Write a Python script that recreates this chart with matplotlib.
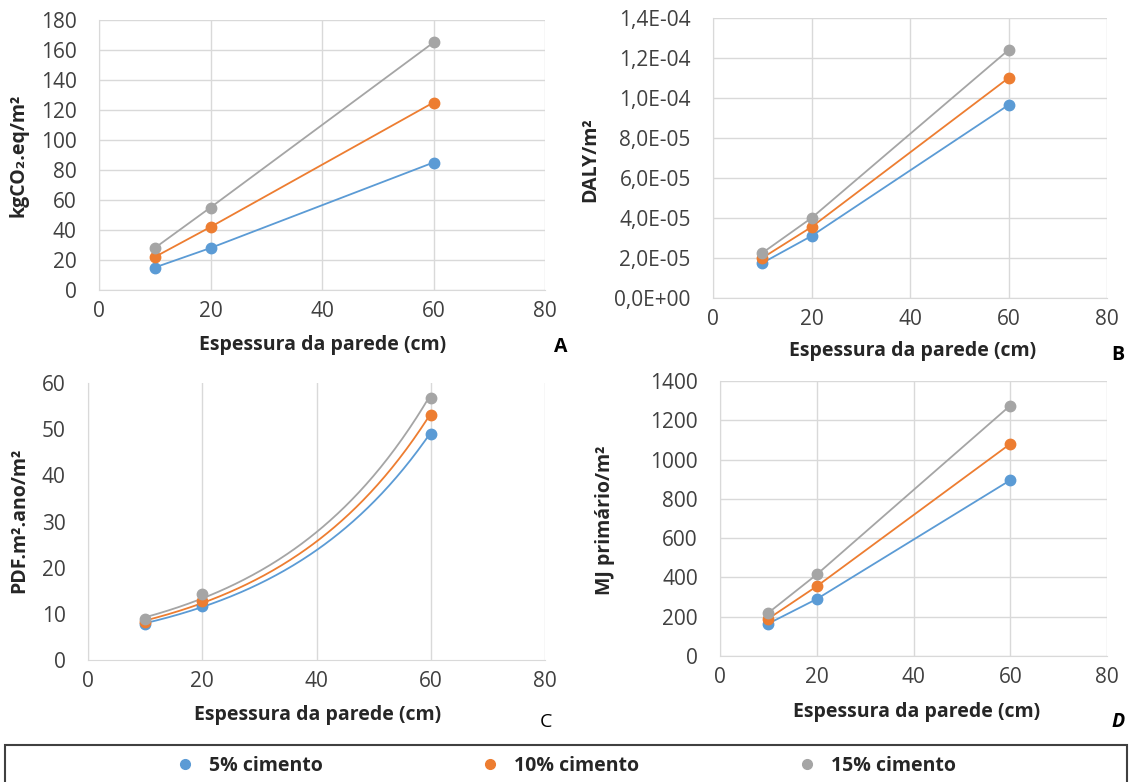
import numpy as np
import matplotlib
matplotlib.use("Agg")
import matplotlib.pyplot as plt
from matplotlib.ticker import FuncFormatter
from matplotlib.patches import Rectangle

plt.rcParams['font.family'] = ['Open Sans', 'DejaVu Sans']

# ---------------- data ----------------
thickness = [10, 20, 60]
series_names = ["5% cimento", "10% cimento", "15% cimento"]
colors = ["#5B9BD5", "#ED7D31", "#A5A5A5"]

co2_5 = [15, 28, 85]
co2_10 = [22, 42, 125]
co2_15 = [28, 55, 165]

daly_5 = [1.75e-5, 3.1e-5, 9.65e-5]
daly_10 = [2.0e-5, 3.55e-5, 1.10e-4]
daly_15 = [2.25e-5, 4.0e-5, 1.24e-4]

pdf_5 = [7.8, 11.8, 49.0]
pdf_10 = [8.3, 12.8, 53.0]
pdf_15 = [8.8, 14.2, 56.8]

mj_5 = [165, 290, 895]
mj_10 = [190, 355, 1080]
mj_15 = [220, 415, 1275]

x_ticks = [0, 20, 40, 60, 80]
yticks_A = [0, 20, 40, 60, 80, 100, 120, 140, 160, 180]
yticks_B = [0, 2e-5, 4e-5, 6e-5, 8e-5, 1e-4, 1.2e-4, 1.4e-4]
yticks_C = [0, 10, 20, 30, 40, 50, 60]
yticks_D = [0, 200, 400, 600, 800, 1000, 1200, 1400]

xlabel = "Espessura da parede (cm)"

# ---------------- figure ----------------
fig = plt.figure(figsize=(11.3, 7.82), dpi=100)
W, H = 1130, 782

def ax_from_px(l, r, t, b):
    return fig.add_axes([l / W, 1 - b / H, (r - l) / W, (b - t) / H])

axA = ax_from_px(99, 545, 20, 290)
axB = ax_from_px(713, 1107, 18, 298)
axC = ax_from_px(88, 545, 383, 660)
axD = ax_from_px(720, 1107, 381, 656)

grid_c = "#D9D9D9"
tick_c = "#404040"
FS_TICK = 15

def style(ax, yticks, hgrid=True):
    ax.set_xlim(0, 80)
    ax.set_ylim(yticks[0], yticks[-1])
    ax.set_xticks(x_ticks)
    ax.set_yticks(yticks)
    for s in ax.spines.values():
        s.set_visible(False)
    ax.spines['left'].set_visible(True)
    ax.spines['bottom'].set_visible(True)
    ax.spines['left'].set_color(grid_c)
    ax.spines['bottom'].set_color(grid_c)
    ax.grid(True, axis='x', color=grid_c, lw=1)
    if hgrid:
        ax.grid(True, axis='y', color=grid_c, lw=1)
    ax.set_axisbelow(True)
    ax.tick_params(length=0, labelsize=FS_TICK, colors=tick_c)
    ax.tick_params(axis='y', pad=16)
    ax.tick_params(axis='x', pad=8)

def plot_lines(ax, ys):
    for y, c, n in zip(ys, colors, series_names):
        ax.plot(thickness, y, color=c, lw=1.3, marker='o', ms=7.5, label=n, zorder=3)

style(axA, yticks_A)
plot_lines(axA, [co2_5, co2_10, co2_15])

style(axB, yticks_B)
plot_lines(axB, [daly_5, daly_10, daly_15])
axB.yaxis.set_major_formatter(FuncFormatter(lambda v, p: f"{v:.1E}".replace('.', ',')))

style(axC, yticks_C, hgrid=False)
# exponential trendlines + markers
xs = np.linspace(min(thickness), max(thickness), 200)
for y, c, n in zip([pdf_5, pdf_10, pdf_15], colors, series_names):
    b, a = np.polyfit(thickness, np.log(y), 1)
    axC.plot(xs, np.exp(a + b * xs), color=c, lw=1.3, zorder=3)
    axC.plot(thickness, y, 'o', color=c, ms=7.5, zorder=4)

style(axD, yticks_D)
plot_lines(axD, [mj_5, mj_10, mj_15])

# ---------------- labels ----------------
lab_c = "#262626"
FS_LAB = 14

def ftxt(x, y, s, **kw):
    fig.text(x / W, 1 - y / H, s, ha='center', va='center', **kw)

ftxt(323, 345, xlabel, fontsize=FS_LAB, fontweight='bold', color=lab_c)
ftxt(913, 351, xlabel, fontsize=FS_LAB, fontweight='bold', color=lab_c)
ftxt(318, 715, xlabel, fontsize=FS_LAB, fontweight='bold', color=lab_c)
ftxt(917, 712, xlabel, fontsize=FS_LAB, fontweight='bold', color=lab_c)

ftxt(19, 155, "kgCO₂.eq/m²", fontsize=FS_LAB, fontweight='bold', color=lab_c, rotation=90)
ftxt(590, 160, "DALY/m²", fontsize=FS_LAB, fontweight='bold', color=lab_c, rotation=90)
ftxt(19, 520, "PDF.m².ano/m²", fontsize=FS_LAB, fontweight='bold', color=lab_c, rotation=90)
ftxt(605, 520, "MJ primário/m²", fontsize=FS_LAB, fontweight='bold', color=lab_c, rotation=90)

ftxt(561, 347, "A", fontsize=14, fontweight='bold', color='black')
ftxt(1118, 355, "B", fontsize=14, fontweight='bold', color='black')
ftxt(546, 722, "C", fontsize=14, color='black')
ftxt(1118, 722, "D", fontsize=14, fontweight='bold', style='italic', color='black')

# ---------------- legend ----------------
fig.add_artist(Rectangle((5 / W, -0.02), (1122) / W, (0.02 + (782 - 745) / H),
                         transform=fig.transFigure, fill=False, ec='#404040', lw=1.5,
                         clip_on=False))
handles = [plt.Line2D([], [], ls='none', marker='o', ms=7, color=c) for c in colors]
fig.legend(handles, series_names, loc='center', bbox_to_anchor=(0.496, 1 - 766 / H),
           ncol=3, frameon=False, columnspacing=7.6, handletextpad=0.25,
           prop={'size': 14, 'weight': 'bold'}, labelcolor=lab_c)

fig.savefig("out.png", dpi=100)
